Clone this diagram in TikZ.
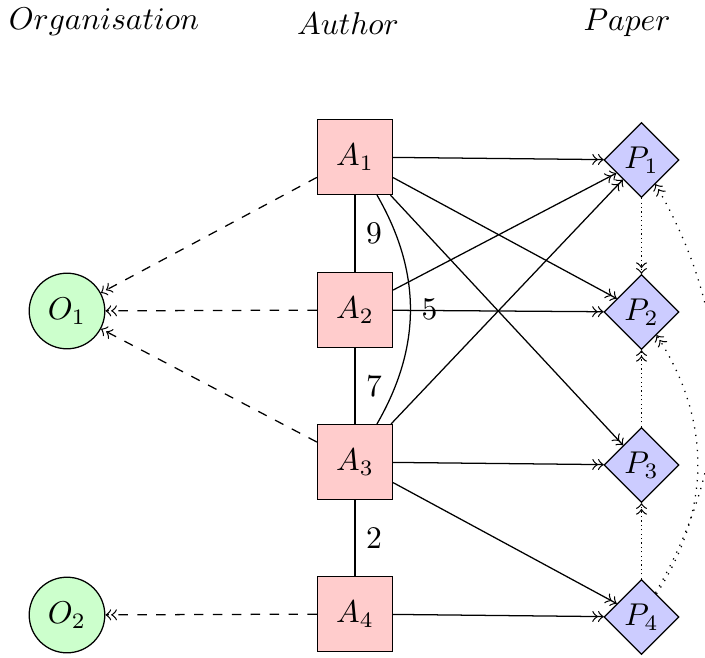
\documentclass[tikz,border=0pt]{standalone}
\usetikzlibrary{shapes.geometric}
\begin{document}
\begin{tikzpicture}[x=0.31746pt, y=0.31746pt,
  author/.style={draw, fill=red!20, rectangle, minimum size=23.8pt, inner sep=2pt},
  paper/.style={draw, fill=blue!20, diamond, aspect=1, minimum size=23.8pt, inner sep=0pt},
  org/.style={draw, fill=green!20, circle, minimum size=24pt, inner sep=1pt},
  head/.style={anchor=base},
  link/.style={->>},
  affil/.style={->>, dashed},
  cite/.style={->>, densely dotted},
  citefar/.style={->>, dotted},
  wt/.style={right}]
\useasboundingbox (0,0) rectangle (705,-657);

% column headings
\node[head] (hOrg) at (104,-30) {$Organisation$};
\node[head] (hAut) at (348,-35) {$Author$};
\node[head] (hPap) at (627,-31) {$Paper$};

% authors
\node[author] (A1) at (355,-157) {$A_1$};
\node[author] (A2) at (355,-310) {$A_2$};
\node[author] (A3) at (355,-462) {$A_3$};
\node[author] (A4) at (355,-614) {$A_4$};

% papers
\node[paper] (P1) at (641.5,-160) {$P_1$};
\node[paper] (P2) at (641.5,-312) {$P_2$};
\node[paper] (P3) at (641.5,-465) {$P_3$};
\node[paper] (P4) at (641.5,-617) {$P_4$};

% organisations
\node[org] (O1) at (67,-311) {$O_1$};
\node[org] (O2) at (67,-615) {$O_2$};

% co-authorship weights
\draw (A1) -- node[wt] {$9$} (A2);
\draw (A2) -- node[wt] {$7$} (A3);
\draw (A3) -- node[wt] {$2$} (A4);
\draw (A1) to[bend left=30] node[wt] {$5$} (A3);

% authorship
\foreach \a/\p in {A1/P1, A1/P2, A1/P3, A2/P1, A2/P2, A3/P1, A3/P3, A3/P4, A4/P4}
  \draw[link] (\a) -- (\p);

% affiliations
\draw[affil] (A1) -- (O1);
\draw[affil] (A2) -- (O1);
\draw[affil] (A3) -- (O1);
\draw[affil] (A4) -- (O2);

% citations
\draw[cite] (P1) -- (P2);
\draw[cite] (P3) -- (P2);
\draw[cite] (P4) -- (P3);
\draw[citefar] (P4) to[bend right=30] (P1);
\draw[citefar] (P4) to[bend right=33] (P2);
\end{tikzpicture}
\end{document}
